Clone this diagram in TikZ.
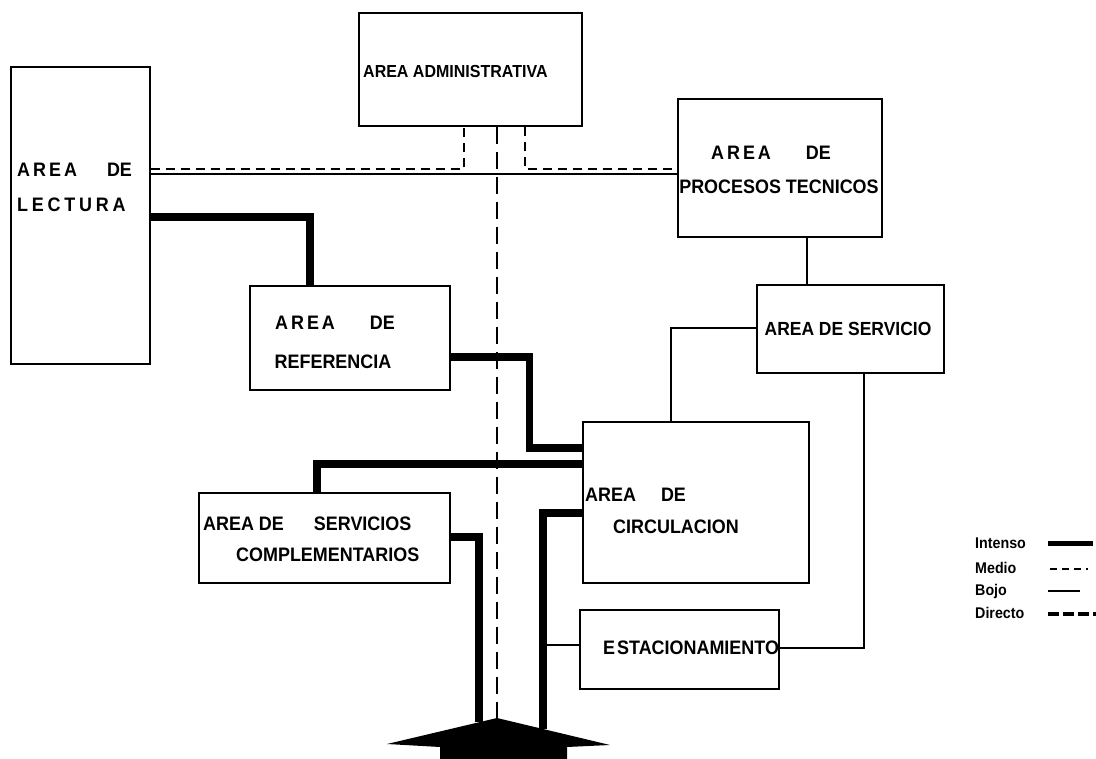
\documentclass[tikz,border=0pt]{standalone}
\usepackage{fontspec}
\setmainfont{Liberation Sans}[FakeStretch=0.92]
\begin{document}
\begin{tikzpicture}[
  x=1pt, y=-1pt,
  box/.style={draw, line width=1.6pt, rectangle, inner sep=0pt, anchor=north west},
  lbl/.style={font=\bfseries\fontsize{19.5}{21}\selectfont, inner sep=0pt},
  leg/.style={font=\bfseries\fontsize{15.5}{17}\selectfont, inner sep=0pt, anchor=west},
  intenso/.style={line width=7.5pt},
  bajo/.style={line width=1.8pt},
  medio/.style={line width=1.8pt, dash pattern=on 9pt off 6pt},
  directo/.style={line width=2.6pt, dash pattern=on 17pt off 8pt},
  legdirecto/.style={line width=4pt, dash pattern=on 11pt off 4pt},
]
\useasboundingbox (0,0) rectangle (1096,759);

% boxes
\node[box, minimum width=139pt, minimum height=297pt] (lec) at (10,66) {};
\node[box, minimum width=223pt, minimum height=113pt] (adm) at (358,12) {};
\node[box, minimum width=204pt, minimum height=138pt] (pro) at (677,98) {};
\node[box, minimum width=200pt, minimum height=104pt] (ref) at (249,285) {};
\node[box, minimum width=187pt, minimum height=88pt] (ser) at (756,284) {};
\node[box, minimum width=226pt, minimum height=161pt] (cir) at (582,421) {};
\node[box, minimum width=251pt, minimum height=90pt] (com) at (198,492) {};
\node[box, minimum width=199pt, minimum height=79pt] (est) at (579,609) {};

% labels
\node[lbl, anchor=west] (lecA) at (17,170) {A\kern3pt R\kern3pt E\kern3pt A\hspace{30pt}DE};
\node[lbl, anchor=west] (lecB) at (17,205) {L\kern3.8pt E\kern3.8pt C\kern3.8pt T\kern3.8pt U\kern3.8pt R\kern3.8pt A};
\node[lbl, anchor=west, font=\bfseries\fontsize{17.4}{19}\selectfont] (admT) at (363,72) {AREA ADMINISTRATIVA};
\node[lbl] (proA) at (771,153) {A\kern3pt R\kern3pt E\kern3pt A\hspace{35pt}DE};
\node[lbl] (proB) at (779,187) {PROCESOS TECNICOS};
\node[lbl] (refA) at (335,323) {A\kern3pt R\kern3pt E\kern3pt A\hspace{35pt}DE};
\node[lbl] (refB) at (333,362) {REFERENCIA};
\node[lbl, font=\bfseries\fontsize{19}{21}\selectfont] (serT) at (848,329) {AREA DE SERVICIO};
\node[lbl, anchor=west] (cirA) at (585,495) {AREA\hspace{25pt}DE};
\node[lbl, anchor=west] (cirB) at (613,527) {CIRCULACION};
\node[lbl, anchor=west] (comA) at (203,524) {AREA DE\hspace{30pt}SERVICIOS};
\node[lbl, anchor=west] (comB) at (236,555) {COMPLEMENTARIOS};
\node[lbl, anchor=west] (estT) at (603,648) {E\kern2pt STACIONAMIENTO};

% entrance coordinates
\coordinate (ent) at (497,718);
\coordinate (entL) at (479,722);
\coordinate (entR) at (543,729);

% connectors
\draw[medio] (lec.east |- 0,169) -| (adm.south -| 464,0);
\draw[medio] (adm.south -| 525,0) |- (pro.west |- 0,169);
\draw[bajo] (lec.east |- 0,174) -- (pro.west |- 0,174);
\draw[directo] (adm.south -| ent) -- (ent);

\draw[intenso] (lec.east |- 0,217) -| (ref.north -| 310,0);
\draw[intenso] (ref.east |- 0,357) -- ++(79,0) |- (cir.west |- 0,448);
\draw[intenso] (cir.west |- 0,464) -| (com.north -| 317,0);
\draw[intenso] (com.east |- 0,537) -| (entL);
\draw[intenso] (cir.west |- 0,513) -| (entR);

\draw[bajo] (pro.south -| 807,0) -- (ser.north -| 807,0);
\draw[bajo] (ser.west |- 0,328) -| (cir.north -| 671,0);
\draw[line width=2.4pt] (ser.south -| 864,0) |- (est.east |- 0,648);
\draw[line width=2.4pt] (est.west |- 0,645) -- (entR |- 0,645);

% entrance arrow
\fill (387,744) -- (ent) -- (610,745) -- (567,747) -- (567,759) -- (440,759) -- (440,747) -- cycle;

% legend
\node[leg] (lgI) at (975,543) {Intenso};
\node[leg] (lgM) at (975,568) {Medio};
\node[leg] (lgB) at (975,591) {Bojo};
\node[leg] (lgD) at (975,613) {Directo};
\coordinate (l1a) at (1048,543); \coordinate (l1b) at (1093,543);
\coordinate (l2a) at (1050,569); \coordinate (l2b) at (1088,569);
\coordinate (l3a) at (1048,591); \coordinate (l3b) at (1080,591);
\coordinate (l4a) at (1048,614); \coordinate (l4b) at (1096,614);
\draw[line width=5pt] (l1a) -- (l1b);
\draw[line width=1.6pt, dash pattern=on 7pt off 5pt] (l2a) -- (l2b);
\draw[line width=1.8pt] (l3a) -- (l3b);
\draw[legdirecto] (l4a) -- (l4b);
\end{tikzpicture}
\end{document}
